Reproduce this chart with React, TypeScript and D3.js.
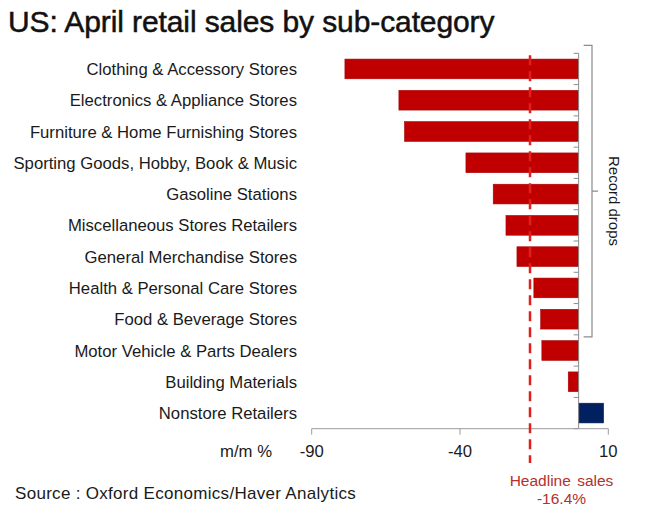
import React from "react";
import * as d3 from "d3";

const categories = [
  "Clothing & Accessory Stores",
  "Electronics & Appliance Stores",
  "Furniture & Home Furnishing Stores",
  "Sporting Goods, Hobby, Book & Music",
  "Gasoline Stations",
  "Miscellaneous Stores Retailers",
  "General Merchandise Stores",
  "Health & Personal Care Stores",
  "Food & Beverage Stores",
  "Motor Vehicle & Parts Dealers",
  "Building Materials",
  "Nonstore Retailers",
];
const values = [-78.8, -60.6, -58.7, -38.0, -28.8, -24.5, -20.8, -15.1, -12.8, -12.4, -3.5, 8.4];
const xTicks = [-90, -40, 10];
const headline = -16.4;
const recordDropsCount = 9;

const W = 650;
const H = 519;
const FONT = "Arial, 'Liberation Sans', Helvetica, sans-serif";

export default function App() {
  const x = d3.scaleLinear().domain([-90, 10]).range([311.7, 608.3]);
  const y = d3
    .scaleBand<string>()
    .domain(categories)
    .range([53.3, 428.7])
    .paddingInner(0.37)
    .paddingOuter(0.185);
  const step = y.step();
  const top = y.range()[0];
  const bottom = y.range()[1];
  const x0 = x(0);
  const boundaries = d3.range(categories.length + 1).map((i) => top + i * step);

  const braceTop = top - 8;
  const braceBottom = top + recordDropsCount * step + 2;
  const braceMid = (braceTop + braceBottom) / 2;

  return (
    <svg
      width={W}
      height={H}
      style={{ position: "absolute", left: 0, top: 0, background: "#fff" }}
      fontFamily={FONT}
    >
      <rect x={0} y={0} width={W} height={H} fill="#fff" />
      <text x={8} y={32} fontSize={30} fill="#111" stroke="#111" strokeWidth={0.5} style={{ letterSpacing: "-0.1px" }}>
        US: April retail sales by sub-category
      </text>

      {/* category labels */}
      {categories.map((c) => (
        <text
          key={c}
          x={297}
          y={(y(c) as number) + y.bandwidth() / 2}
          dy="0.36em"
          textAnchor="end"
          fontSize={16.7}
          fill="#1a1a1a"
        >
          {c}
        </text>
      ))}

      {/* bars */}
      {categories.map((c, i) => {
        const v = values[i];
        return (
          <rect
            key={c}
            x={Math.min(x(v), x0)}
            y={y(c) as number}
            width={Math.abs(x(v) - x0)}
            height={y.bandwidth()}
            fill={v < 0 ? "#c00000" : "#002060"}
            stroke={v < 0 ? "#a80000" : "#001848"}
            strokeWidth={0.6}
          />
        );
      })}

      {/* y axis */}
      <line x1={x0} x2={x0} y1={top} y2={bottom} stroke="#8c8c8c" strokeWidth={1} />
      {boundaries.map((b, i) => (
        <line key={i} x1={x0 - 5} x2={x0} y1={b} y2={b} stroke="#8c8c8c" strokeWidth={1} />
      ))}

      {/* x axis */}
      <line x1={x(-90)} x2={x(10)} y1={bottom} y2={bottom} stroke="#9a9a9a" strokeWidth={1} />
      {xTicks.map((t) => (
        <g key={t}>
          <line x1={x(t)} x2={x(t)} y1={bottom} y2={bottom + 6} stroke="#9a9a9a" strokeWidth={1} />
          <text x={x(t)} y={451} dy="0.36em" textAnchor="middle" fontSize={16.7} fill="#1a1a1a">
            {t}
          </text>
        </g>
      ))}
      <text x={272} y={451} dy="0.36em" textAnchor="end" fontSize={16.7} fill="#1a1a1a">
        m/m %
      </text>

      {/* headline dashed line */}
      <line
        x1={x(headline)}
        x2={x(headline)}
        y1={top + 2}
        y2={463}
        stroke="#e0201c"
        strokeWidth={2.5}
        strokeDasharray="10,6"
      />
      <text x={561.5} y={480} dy="0.36em" textAnchor="middle" fontSize={15.5} fill="#b5302c" style={{ wordSpacing: "2px" }}>
        Headline sales
      </text>
      <text x={561.5} y={498} dy="0.36em" textAnchor="middle" fontSize={15.5} fill="#b5302c">
        {`${headline}%`}
      </text>

      {/* brace */}
      <path
        d={`M${x0 + 5},${braceTop} H${592} V${braceBottom} H${x0 + 5} M592,${braceMid} H598`}
        fill="none"
        stroke="#8c8c8c"
        strokeWidth={1.2}
      />
      <text
        transform={`translate(609,${201}) rotate(90)`}
        textAnchor="middle"
        fontSize={15}
        fill="#1a1a1a"
      >
        Record drops
      </text>

      <text x={15} y={493} dy="0.36em" fontSize={17} fill="#1a1a1a" style={{ letterSpacing: "0.3px" }}>
        Source : Oxford Economics/Haver Analytics
      </text>
    </svg>
  );
}
